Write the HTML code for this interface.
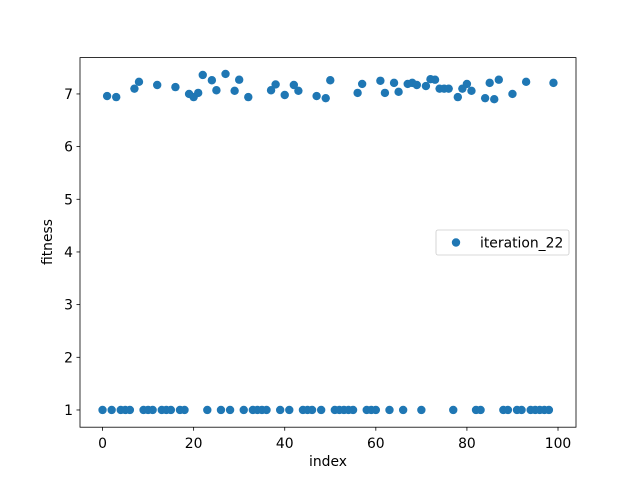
<!DOCTYPE html>
<html><head><meta charset="utf-8"><style>
body{margin:0;background:#fff;}
svg{display:block;font-family:"DejaVu Sans","Liberation Sans",sans-serif;}
</style></head><body>
<svg id="chart" width="640" height="480">
<rect width="640" height="480" fill="#fff"/>
<g id="marks"></g>
<rect x="80" y="57.6" width="496" height="369.6" fill="none" stroke="#000" stroke-width="0.8"/>
<g id="xt"></g><g id="yt"></g>
<text x="328" y="466" font-size="13.9" text-anchor="middle">index</text>
<text transform="translate(52,242) rotate(-90)" font-size="13.9" text-anchor="middle">fitness</text>
<g>
<rect x="436" y="230" width="133" height="25" rx="2" fill="#fff" stroke="#ccc" stroke-width="0.8"/>
<circle cx="456" cy="242.5" r="4.2" fill="#1f77b4"/>
<text x="480" y="247.5" font-size="13.9">iteration_22</text>
</g>
</svg>
<script>
const highIdx=[1,3,7,8,12,16,19,20,21,22,24,25,27,29,30,32,37,38,40,42,43,47,49,50,56,57,61,62,64,65,67,68,69,71,72,73,74,75,76,78,79,80,81,84,85,86,87,90,93,99];
const highVals=[6.96,6.94,7.1,7.23,7.17,7.13,7.0,6.94,7.02,7.36,7.26,7.07,7.38,7.06,7.27,6.94,7.07,7.18,6.98,7.17,7.06,6.96,6.92,7.26,7.02,7.19,7.25,7.02,7.21,7.04,7.19,7.21,7.17,7.15,7.28,7.27,7.1,7.1,7.1,6.94,7.1,7.19,7.06,6.92,7.21,6.9,7.27,7.0,7.23,7.21];
const lowValue=1;
const xTicks=[0,20,40,60,80,100];
const yTicks=[1,2,3,4,5,6,7];
const values=[];
for(let i=0;i<100;i++){const k=highIdx.indexOf(i);values.push(k>=0?highVals[k]:lowValue);}
const X0=80,X1=576,Y0=57.6,Y1=427.2,xmin=-4.95,xmax=103.95,ymin=0.673,ymax=7.69;
const sx=v=>X0+(v-xmin)/(xmax-xmin)*(X1-X0);
const sy=v=>Y1-(v-ymin)/(ymax-ymin)*(Y1-Y0);
const NS="http://www.w3.org/2000/svg";
const marks=document.getElementById('marks');
values.forEach((v,i)=>{
 const c=document.createElementNS(NS,'circle');
 c.setAttribute('cx',sx(i));c.setAttribute('cy',sy(v));c.setAttribute('r',4.2);c.setAttribute('fill','#1f77b4');
 
 
 marks.appendChild(c);
});
const xt=document.getElementById('xt');
xTicks.forEach(t=>{
 const l=document.createElementNS(NS,'line');
 l.setAttribute('x1',sx(t));l.setAttribute('x2',sx(t));l.setAttribute('y1',Y1);l.setAttribute('y2',Y1+3.5);l.setAttribute('stroke','#000');l.setAttribute('stroke-width','0.8');
 
 
 xt.appendChild(l);
 const s=document.createElementNS(NS,'text');
 s.setAttribute('x',sx(t));s.setAttribute('y',Y1+21);s.setAttribute('font-size','13.9');s.setAttribute('text-anchor','middle');s.textContent=t;
 
 
 xt.appendChild(s);
});
const yt=document.getElementById('yt');
yTicks.forEach(t=>{
 const l=document.createElementNS(NS,'line');
 l.setAttribute('x1',X0-3.5);l.setAttribute('x2',X0);l.setAttribute('y1',sy(t));l.setAttribute('y2',sy(t));l.setAttribute('stroke','#000');l.setAttribute('stroke-width','0.8');
 
 
 yt.appendChild(l);
 const s=document.createElementNS(NS,'text');
 s.setAttribute('x',X0-7);s.setAttribute('y',sy(t)+5);s.setAttribute('font-size','13.9');s.setAttribute('text-anchor','end');s.textContent=t;
 
 
 yt.appendChild(s);
});
</script>
</body></html>
